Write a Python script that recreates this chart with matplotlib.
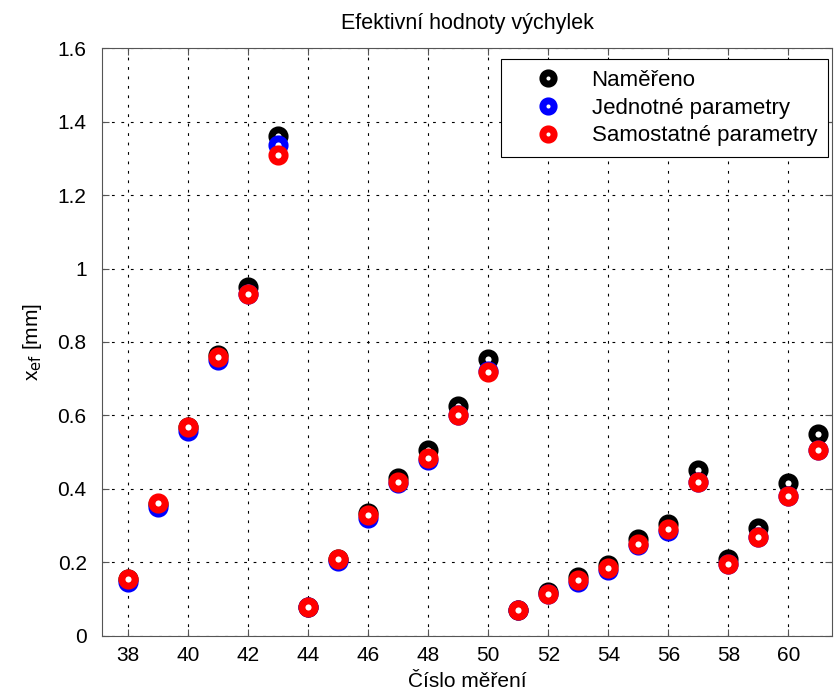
import numpy as np
import matplotlib.pyplot as plt

plt.rcParams['font.family'] = ['Liberation Sans', 'DejaVu Sans']

# cislo mereni a efektivni hodnoty vychylek [mm]
mereni = list(range(38, 62))
namereno = [0.155, 0.360, 0.568, 0.765, 0.950, 1.360, 0.080, 0.210, 0.335, 0.430,
            0.505, 0.625, 0.754, 0.070, 0.120, 0.160, 0.192, 0.265, 0.305, 0.452,
            0.210, 0.295, 0.415, 0.550]
jednotne = [0.148, 0.350, 0.557, 0.750, 0.930, 1.335, 0.080, 0.205, 0.320, 0.415,
            0.480, 0.600, 0.720, 0.070, 0.113, 0.148, 0.180, 0.248, 0.285, 0.420,
            0.195, 0.270, 0.380, 0.505]
samostatne = [0.155, 0.362, 0.570, 0.760, 0.930, 1.310, 0.080, 0.210, 0.330, 0.420,
              0.485, 0.600, 0.718, 0.070, 0.113, 0.152, 0.185, 0.250, 0.290, 0.420,
              0.195, 0.270, 0.380, 0.505]

fig = plt.figure(figsize=(8.34, 6.93), dpi=100)
ax = fig.add_axes([0.1223, 0.0823, 0.8753, 0.8484])

mk = dict(marker='o', linestyle='none', markersize=9.5, markeredgewidth=5,
          markerfacecolor='white')
ax.plot(mereni, namereno, markeredgecolor='black', label='Naměřeno', **mk)
ax.plot(mereni, jednotne, markeredgecolor='blue', label='Jednotné parametry', **mk)
ax.plot(mereni, samostatne, markeredgecolor='red', label='Samostatné parametry', **mk)

ax.set_xlim(37.13, 61.45)
ax.set_ylim(0, 1.6)
ax.set_xticks(np.arange(38, 61, 2))
ax.set_yticks(np.arange(0, 1.61, 0.2))
ax.set_yticklabels(['0', '0.2', '0.4', '0.6', '0.8', '1', '1.2', '1.4', '1.6'])
ax.tick_params(direction='in', top=True, right=True, labelsize=15, length=5,
               color='#555555')
ax.tick_params(axis='y', pad=11)
ax.tick_params(axis='x', pad=7)
for s in ax.spines.values():
    s.set_color('#555555')
ax.grid(True, color='black', linestyle=(0, (2.5, 6)), linewidth=0.8)

ax.set_title('Efektivní hodnoty výchylek', fontsize=15.5, pad=14)
ax.set_xlabel('Číslo měření', fontsize=15, labelpad=5)
ax.set_ylabel('x$_{\\mathrm{ef}}$ [mm]', fontsize=15, labelpad=10)

leg = ax.legend(loc='upper right', bbox_to_anchor=(0.993, 0.915),
                bbox_transform=fig.transFigure, fontsize=16, fancybox=False,
                framealpha=1, edgecolor='black', borderpad=0.5, borderaxespad=0,
                handlelength=3.2, handletextpad=0.36, labelspacing=0.3,
                markerscale=0.85)
leg.get_frame().set_linewidth(0.8)

fig.savefig('out.png', dpi=100)
